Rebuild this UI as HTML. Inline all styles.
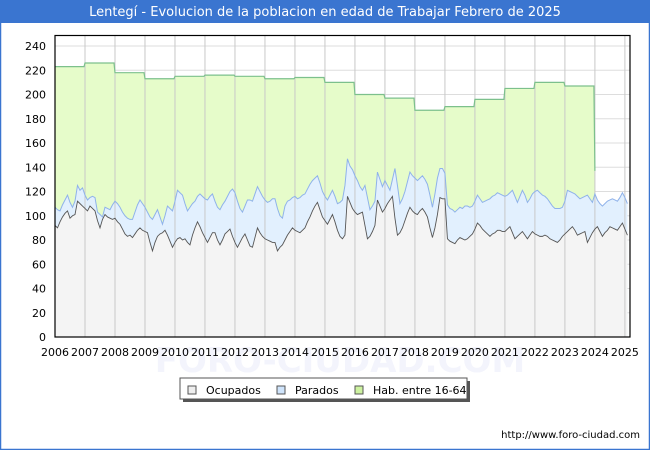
<!DOCTYPE html>
<html><head><meta charset="utf-8"><style>
html,body{margin:0;padding:0;background:#fff}
svg{display:block;font-family:"DejaVu Sans","Liberation Sans",sans-serif}
</style></head><body>
<svg id="chart" width="650" height="450" viewBox="0 0 650 450" xmlns="http://www.w3.org/2000/svg">
<rect x="0" y="0" width="650" height="450" fill="#fff"/>
<rect x="0.5" y="0.5" width="649" height="449" fill="none" stroke="#3a75d0" stroke-width="1.5"/>
<rect x="0" y="0" width="650" height="23" fill="#3a75d0"/>
<text x="325" y="16" text-anchor="middle" fill="#fff" font-size="13">Lentegí - Evolucion de la poblacion en edad de Trabajar Febrero de 2025</text>
<text x="340" y="372" text-anchor="middle" fill="#f3f4fc" font-size="34" font-weight="bold">FORO-CIUDAD.COM</text>
<g id="grid"></g>
<g id="series"></g>
<rect x="55" y="35.5" width="575" height="301.5" fill="none" stroke="#000" stroke-width="1.2"/>
<g id="axes"></g>
<g>
<rect x="183" y="381" width="287" height="21" fill="#555"/>
<rect x="180" y="378" width="287" height="21" fill="#fff" stroke="#555"/>
<rect x="188" y="386" width="8" height="8" fill="#eee" stroke="#555"/>
<text x="206" y="394" font-size="11">Ocupados</text>
<rect x="277" y="386" width="8" height="8" fill="#cfe4fb" stroke="#555"/>
<text x="295" y="394" font-size="11">Parados</text>
<rect x="355" y="386" width="8" height="8" fill="#cdf2a0" stroke="#555"/>
<text x="373" y="394" font-size="11">Hab. entre 16-64</text>
</g>
<text x="640" y="438" text-anchor="end" font-size="10">http://www.foro-ciudad.com</text>
</svg>
<script>
const yTicks=[0,20,40,60,80,100,120,140,160,180,200,220,240];
const xYears=[2006,2007,2008,2009,2010,2011,2012,2013,2014,2015,2016,2017,2018,2019,2020,2021,2022,2023,2024,2025];
const habYears=[2006,2007,2008,2009,2010,2011,2012,2013,2014,2015,2016,2017,2018,2019,2020,2021,2022,2023,2024];
const habValues=[223,226,218,213,215,216,215,213,214,210,200,197,187,190,196,205,210,207,137];
const ocupados=[92,90,95,99,102,104,98,100,101,112,110,108,106,104,108,106,104,96,90,97,
101,99,98,97,98,95,93,89,85,83,84,82,85,88,90,88,87,86,78,71,
78,83,85,86,88,84,79,74,78,81,82,80,81,78,76,84,90,95,91,86,
82,78,82,86,86,80,76,80,85,87,89,83,78,74,78,82,85,80,75,74,
82,90,86,83,81,80,79,78,78,71,74,76,80,84,87,90,88,87,86,88,
90,95,99,104,108,111,105,99,96,93,97,101,95,88,83,81,84,116,111,106,
103,101,102,103,92,81,83,87,92,113,108,103,106,110,113,116,98,84,86,90,
96,102,107,104,102,101,104,106,103,99,90,82,90,101,115,114,114,81,79,78,
77,80,82,81,80,81,83,85,89,94,92,89,87,85,83,85,86,88,88,87,
87,89,91,86,81,83,85,87,84,81,84,87,85,84,83,83,84,83,81,80,
79,78,80,83,85,87,89,91,88,84,85,86,87,78,82,86,89,91,87,83,
86,88,91,90,89,88,91,94,89,84];
const activos=[107,105,104,109,113,117,111,107,112,125,121,123,117,113,115,116,115,103,101,99,
107,106,105,109,112,110,107,103,100,98,97,97,103,109,113,110,107,103,99,97,
101,105,99,93,100,108,106,104,112,121,119,117,110,104,107,110,112,116,118,116,
114,113,116,118,112,107,105,109,112,116,120,122,119,112,106,103,108,113,113,112,
118,124,120,116,113,111,112,114,114,106,100,98,108,112,113,115,116,114,115,117,
118,122,126,129,131,133,127,120,116,113,117,121,116,110,111,113,125,147,141,138,
133,129,124,121,125,115,105,108,112,136,130,124,129,125,121,130,139,125,110,114,
120,128,136,133,131,129,131,133,130,126,117,107,118,131,139,139,135,109,106,105,
103,105,107,106,108,108,107,108,112,117,114,111,112,113,114,116,117,119,118,117,
116,117,119,121,116,111,116,121,117,111,114,118,120,121,119,117,116,114,111,108,
106,106,106,107,112,121,120,119,118,116,114,115,116,117,114,111,118,113,110,108,
110,112,113,114,113,112,115,119,115,110];

const NS='http://www.w3.org/2000/svg';
const X0=55,X1=630,Y0=337,PPU=1.2125;
function xs(t){return X0+(t-2006)*(X1-X0)/19.17;}
function xm(i){return xs(2006+i/12);}
function ys(v){return Y0-v*PPU;}
function mk(tag,attrs,parent){const e=document.createElementNS(NS,tag);for(const k in attrs)e.setAttribute(k,attrs[k]);parent.appendChild(e);return e;}
const grid=document.getElementById('grid'),series=document.getElementById('series'),axes=document.getElementById('axes');
mk('rect',{x:X0,y:35,width:X1-X0,height:Y0-35,fill:'#fff'},grid);
yTicks.forEach(v=>{
  const l=mk('line',{x1:X0,x2:X1,y1:ys(v),y2:ys(v),stroke:'#ddd','stroke-width':1},grid);
  
  
  const t=mk('text',{x:46,y:ys(v)+4,'text-anchor':'end','font-size':11},axes);
  t.textContent=v;
  
  
});
let ocPts=ocupados.map((v,i)=>xm(i)+','+ys(v));
let totPts=activos.map((v,i)=>xm(i)+','+ys(v));
const last=ocupados.length-1;
let hp=[];
habYears.forEach((yr,k)=>{
  const v=habValues[k];
  if(k<habYears.length-1){hp.push(xs(yr)+','+ys(v));hp.push(xs(habYears[k+1])-1+','+ys(v));}
  else{hp.push(xs(yr)+','+ys(v));}
});
const habX1=xs(habYears[habYears.length-1]);
const habArea=mk('polygon',{points:hp.join(' ')+' '+habX1+','+Y0+' '+X0+','+Y0,fill:'#e6fcca'},series);


const parArea=mk('polygon',{points:totPts.join(' ')+' '+xm(last)+','+Y0+' '+X0+','+Y0,fill:'#e2f0fe'},series);


const ocArea=mk('polygon',{points:ocPts.join(' ')+' '+xm(last)+','+Y0+' '+X0+','+Y0,fill:'#f4f4f4'},series);


xYears.forEach(yr=>{
  const l=mk('line',{x1:xs(yr),x2:xs(yr),y1:35,y2:Y0,stroke:'#c8c8c8','stroke-width':1},series);
  
  
  const t=mk('text',{x:xs(yr),y:356,'text-anchor':'middle','font-size':11},axes);
  t.textContent=yr;
  
  
});
const habLine=mk('polyline',{points:hp.join(' '),fill:'none',stroke:'#7cc08c','stroke-width':1.2},series);


const totLine=mk('polyline',{points:totPts.join(' '),fill:'none',stroke:'#8fb2ea','stroke-width':1},series);


const ocLine=mk('polyline',{points:ocPts.join(' '),fill:'none',stroke:'#555','stroke-width':0.9},series);


</script>
</body></html>
